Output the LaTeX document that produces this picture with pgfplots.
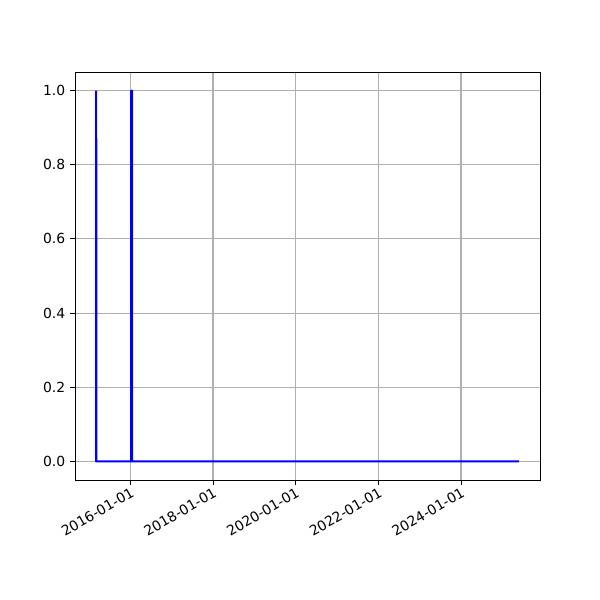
\documentclass[border=0pt]{standalone}
\usepackage{pgfplots}
\pgfplotsset{compat=1.18}
\usepackage{fontspec}
\setmainfont{DejaVu Sans}
\begin{document}
\begin{tikzpicture}
\useasboundingbox (-54pt,-86.4pt) rectangle (378pt,345.6pt);
\begin{axis}[
    at={(0,0)}, anchor=south west,
    scale only axis,
    width=334.8pt, height=293.76pt,
    xmin=2014.66, xmax=2025.91,
    ymin=-0.05, ymax=1.05,
    xtick={2016,2018,2020,2022,2024},
    xticklabels={2016-01-01,2018-01-01,2020-01-01,2022-01-01,2024-01-01},
    ytick={0,0.2,0.4,0.6,0.8,1.0},
    yticklabels={0.0,0.2,0.4,0.6,0.8,1.0},
    xticklabel style={rotate=30, anchor=north east, font=\fontsize{10}{12}\selectfont, inner sep=1pt},
    yticklabel style={font=\fontsize{10}{12}\selectfont},
    grid=major,
    major grid style={color=black!31, line width=0.8pt},
    axis line style={line width=0.6pt},
    tick style={black, line width=0.6pt},
    tick align=outside,
    major tick length=3.5pt,
    xtick pos=bottom, ytick pos=left,
]
\addplot[blue, line width=1.5pt, line join=round, line cap=butt] coordinates {
    (2015.173,1) (2015.174,0) (2016.020,0) (2016.021,1) (2016.022,0)
    (2016.040,0) (2016.041,1) (2016.042,0) (2025.40,0)
};
\end{axis}
\end{tikzpicture}
\end{document}
